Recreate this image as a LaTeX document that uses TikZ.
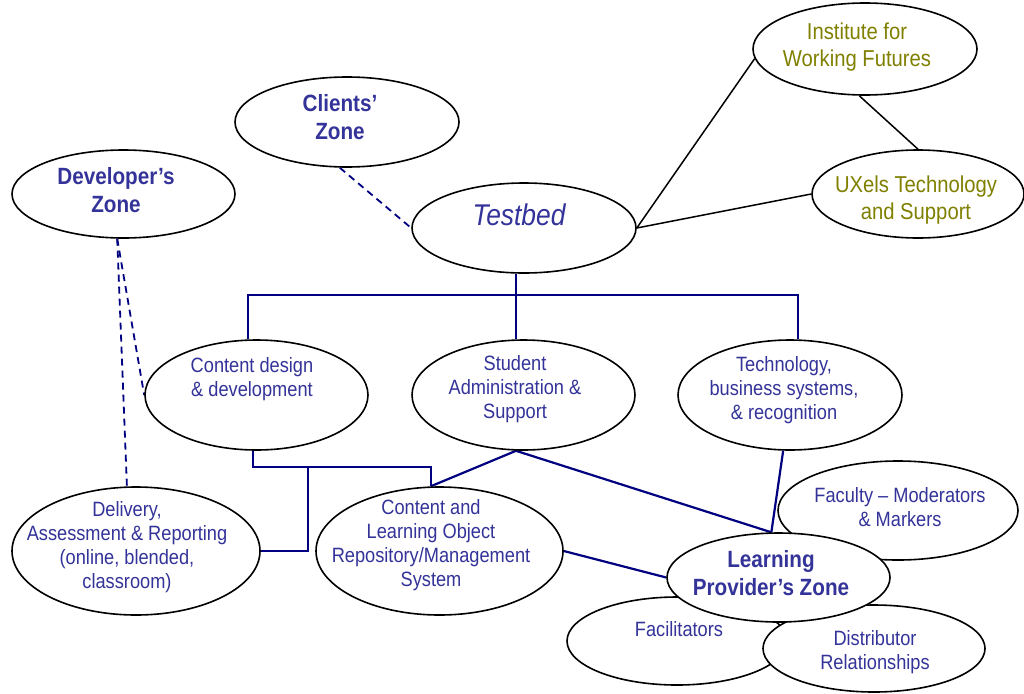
\documentclass[tikz,border=0pt]{standalone}
\usepackage{fontspec}
\setmainfont{Liberation Sans}[FakeStretch=0.88]
\usetikzlibrary{shapes.geometric,backgrounds}

\definecolor{zonetext}{RGB}{51,51,153}
\definecolor{linkblue}{RGB}{0,0,128}
\definecolor{partner}{RGB}{128,128,0}

\tikzset{
  zone/.style={ellipse, draw=black, line width=1.6pt, fill=white, inner sep=0pt},
  txt/.style={text=zonetext, align=center, inner sep=0pt, font=\fontsize{20.7}{24}\selectfont},
  txtbold/.style={txt, font=\fontsize{23.5}{28}\selectfont\bfseries},
  txtpartner/.style={txt, text=partner, font=\fontsize{23}{27}\selectfont},
  txttestbed/.style={txt, font=\fontsize{30}{34}\selectfont\itshape},
  link/.style={draw=linkblue, line width=2.2pt},
  dashlink/.style={draw=linkblue, line width=1.8pt, dash pattern=on 7pt off 5pt},
  plainlink/.style={draw=black, line width=1.5pt},
}

\begin{document}
\begin{tikzpicture}[x=1pt, y=-1pt]
\useasboundingbox (0,0) rectangle (1024,693);

% ---- zones (outline ellipses, later ones overlap earlier ones) ----
\node[zone, minimum width=223pt, minimum height=88pt]  (dev)   at (123.5,194) {};
\node[zone, minimum width=224pt, minimum height=90pt]  (cz)    at (347,122)   {};
\node[zone, minimum width=224pt, minimum height=90pt]  (tb)    at (524,228)   {};
\node[zone, minimum width=224pt, minimum height=92pt]  (inst)  at (865,49)    {};
\node[zone, minimum width=212pt, minimum height=88pt]  (ux)    at (918,194)   {};
\node[zone, minimum width=223pt, minimum height=110pt] (cd)    at (256.5,395) {};
\node[zone, minimum width=223pt, minimum height=110pt] (sa)    at (523.5,395) {};
\node[zone, minimum width=224pt, minimum height=110pt] (tech)  at (790,395)   {};
\node[zone, minimum width=248pt, minimum height=128pt] (del)   at (136,551)   {};
\node[zone, minimum width=247pt, minimum height=128pt] (repo)  at (439.5,551) {};
\node[zone, minimum width=240pt, minimum height=99pt]  (fac)   at (898,510.5) {};
\node[zone, minimum width=220pt, minimum height=88pt]  (facil) at (677,641)   {};
\node[zone, minimum width=222pt, minimum height=87pt]  (dist)  at (874,648.5) {};
\node[zone, minimum width=223pt, minimum height=89pt]  (lp)    at (778.5,577.5) {};

% ---- junction points of the tree ----
\coordinate (barL) at (248,295);
\coordinate (barM) at (516,295);
\coordinate (barR) at (798,295);
\coordinate (jA) at (253,467);
\coordinate (jB) at (308,467);
\coordinate (jC) at (431,467);

% ---- connectors, kept behind the zones ----
\begin{pgfonlayer}{background}
% tree from Testbed
\draw[link] (barL |- cd.north) -- (barL) -- (barR) -- (barR |- tech.north);
\draw[link] (tb.south -| barM) -- (barM |- sa.north);

% content design to repository and delivery
\draw[link] (cd.south -| jA) -- (jA) -- (jC) -- (jC |- repo.north);
\draw[link] (jB) -- (jB |- del.east) -- (del.east);
\draw[link] (jC |- repo.north) -- (sa.south -| barM);

% links into the learning provider's zone
\draw[link] (sa.south -| barM) -- (lp.99.5);
\draw[link] (tech.263) -- (lp.99.5);
\draw[link] (repo.east) -- (lp.west);

% dashed links
\draw[dashlink] (cz.261) -- (tb.west);
\draw[dashlink] (dev.262) -- (del.98);
\draw[dashlink] (dev.262) -- (cd.west);

% partner links
\draw[plainlink] (tb.east) -- (inst.185);
\draw[plainlink] (tb.east) -- (ux.west);
\draw[plainlink] (inst.263) -- (ux.north);
\end{pgfonlayer}

% ---- texts ----
\node[txtbold]    (t-dev)   at (116,190)   {Developer’s\\Zone};
\node[txtbold]    (t-cz)    at (340,117)   {Clients’\\Zone};
\node[txttestbed] (t-tb)    at (519,215)   {Testbed};
\node[txtpartner] (t-inst)  at (857,47)    {Institute for\\Working Futures};
\node[txtpartner] (t-ux)    at (916,200)   {UXels Technology\\and Support};
\node[txt]        (t-cd)    at (252,379)   {Content design\\\& development};
\node[txt]        (t-sa)    at (515,389)   {Student\\Administration \&\\Support};
\node[txt]        (t-tech)  at (784,390)   {Technology,\\business systems,\\\& recognition};
\node[txt]        (t-del)   at (127,547)   {Delivery,\\Assessment \& Reporting\\(online, blended,\\classroom)};
\node[txt]        (t-repo)  at (431,545)   {Content and\\Learning Object\\Repository/Management\\System};
\node[txtbold]    (t-lp)    at (771,573)   {Learning\\Provider’s Zone};
\node[txt]        (t-fac)   at (900,507)   {Faculty -- Moderators\\\& Markers};
\node[txt]        (t-facil) at (679,629)   {Facilitators};
\node[txt]        (t-dist)  at (875,652)   {Distributor\\Relationships};
\end{tikzpicture}
\end{document}
